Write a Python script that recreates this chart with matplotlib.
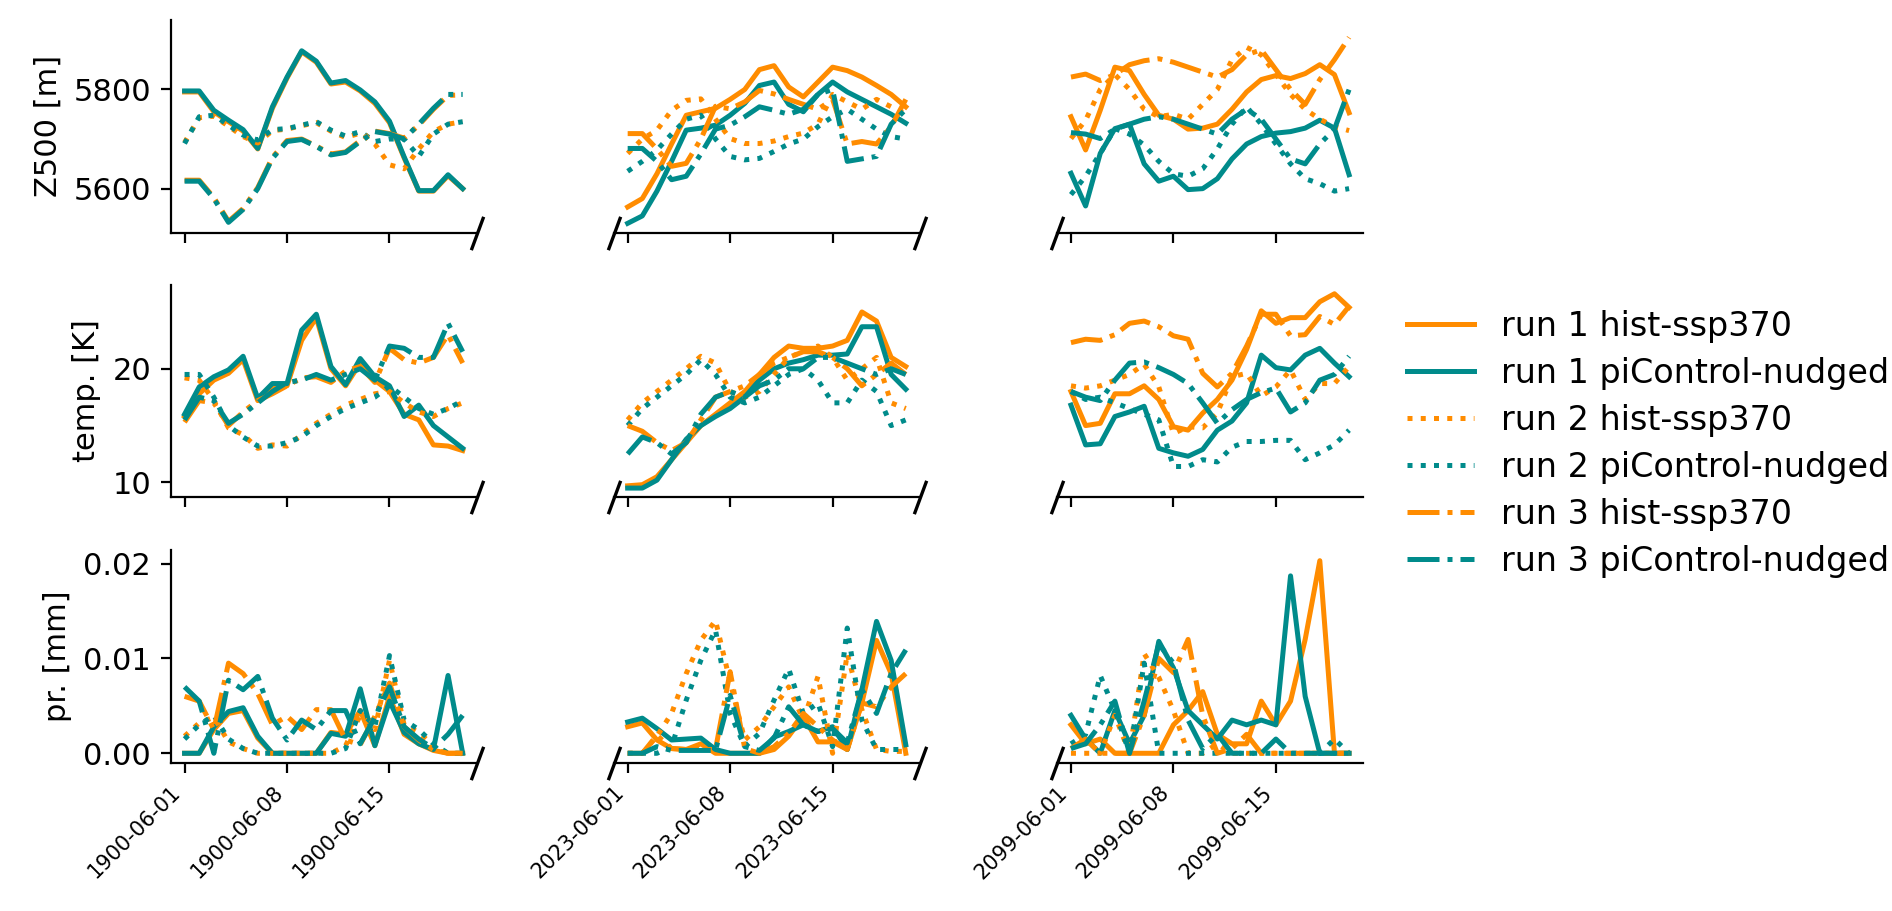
import matplotlib
matplotlib.use("Agg")
import matplotlib.pyplot as plt
import matplotlib.dates as mdates
import matplotlib.ticker as mticker
import pandas as pd

# ---- data: 20 daily values (June 1-20) per run ----
YEARS = ["1900", "2023", "2099"]
VAR_LABELS = ["Z500 [m]", "temp. [K]", "pr. [mm]"]
RUN_LABELS = [
    "run 1 hist-ssp370", "run 1 piControl-nudged",
    "run 2 hist-ssp370", "run 2 piControl-nudged",
    "run 3 hist-ssp370", "run 3 piControl-nudged",
]

# Z500 [m]
z500_1900_hist1 = [5795, 5795, 5755, 5735, 5716, 5680, 5762, 5823, 5876, 5855, 5811, 5815, 5797, 5772, 5733, 5662, 5595, 5595, 5626, 5600]
z500_1900_pic1 = [5797, 5797, 5758, 5738, 5719, 5681, 5765, 5825, 5878, 5857, 5813, 5818, 5799, 5775, 5736, 5664, 5596, 5596, 5628, 5600]
z500_1900_hist2 = [5693, 5743, 5746, 5726, 5705, 5692, 5717, 5720, 5727, 5733, 5716, 5703, 5712, 5690, 5648, 5640, 5680, 5715, 5730, 5735]
z500_1900_pic2 = [5691, 5745, 5748, 5728, 5708, 5698, 5719, 5721, 5728, 5735, 5718, 5706, 5715, 5695, 5700, 5700, 5665, 5710, 5730, 5735]
z500_1900_hist3 = [5617, 5617, 5582, 5534, 5560, 5602, 5663, 5697, 5700, 5686, 5670, 5674, 5697, 5716, 5711, 5702, 5728, 5760, 5788, 5789]
z500_1900_pic3 = [5615, 5615, 5580, 5532, 5558, 5600, 5661, 5695, 5699, 5685, 5668, 5673, 5695, 5715, 5710, 5700, 5730, 5762, 5790, 5790]

z500_2023_hist1 = [5563, 5580, 5630, 5690, 5748, 5755, 5762, 5780, 5800, 5840, 5848, 5805, 5785, 5815, 5845, 5838, 5825, 5808, 5790, 5765]
z500_2023_pic1 = [5530, 5545, 5595, 5655, 5718, 5722, 5728, 5748, 5772, 5808, 5815, 5770, 5755, 5790, 5815, 5795, 5780, 5765, 5750, 5732]
z500_2023_hist2 = [5671, 5700, 5718, 5758, 5778, 5781, 5740, 5701, 5691, 5691, 5696, 5705, 5712, 5730, 5790, 5775, 5760, 5780, 5765, 5750]
z500_2023_pic2 = [5635, 5655, 5678, 5710, 5740, 5748, 5700, 5665, 5658, 5661, 5675, 5690, 5700, 5725, 5745, 5760, 5740, 5720, 5705, 5700]
z500_2023_hist3 = [5711, 5711, 5680, 5645, 5651, 5700, 5766, 5761, 5775, 5798, 5791, 5780, 5770, 5760, 5780, 5690, 5695, 5690, 5725, 5780]
z500_2023_pic3 = [5681, 5681, 5655, 5618, 5625, 5670, 5720, 5728, 5745, 5765, 5758, 5750, 5760, 5790, 5800, 5655, 5660, 5665, 5730, 5760]

z500_2099_hist1 = [5745, 5678, 5758, 5845, 5838, 5790, 5748, 5740, 5720, 5722, 5730, 5760, 5795, 5820, 5828, 5822, 5832, 5850, 5830, 5753]
z500_2099_pic1 = [5631, 5565, 5671, 5721, 5730, 5650, 5615, 5625, 5598, 5600, 5620, 5660, 5690, 5705, 5712, 5715, 5722, 5738, 5722, 5628]
z500_2099_hist2 = [5701, 5738, 5800, 5830, 5800, 5760, 5745, 5750, 5740, 5770, 5800, 5860, 5885, 5870, 5830, 5790, 5760, 5740, 5725, 5717]
z500_2099_pic2 = [5588, 5625, 5671, 5721, 5710, 5688, 5655, 5630, 5625, 5640, 5680, 5730, 5765, 5730, 5690, 5650, 5620, 5610, 5595, 5600]
z500_2099_hist3 = [5825, 5831, 5818, 5830, 5850, 5858, 5862, 5855, 5845, 5835, 5825, 5840, 5870, 5880, 5840, 5800, 5770, 5820, 5860, 5905]
z500_2099_pic3 = [5713, 5710, 5701, 5720, 5730, 5740, 5745, 5740, 5730, 5720, 5710, 5740, 5760, 5740, 5700, 5660, 5650, 5690, 5720, 5800]

# temperature [K]
temp_1900_hist1 = [15.8, 17.8, 19.0, 19.6, 20.8, 17.2, 18.3, 18.5, 22.5, 24.5, 20.0, 18.5, 20.5, 19.0, 18.0, 16.0, 15.5, 13.3, 13.2, 12.8]
temp_1900_pic1 = [16.0, 18.4, 19.3, 19.9, 21.1, 17.4, 18.7, 18.7, 23.4, 24.8, 20.2, 18.6, 20.9, 19.3, 18.5, 15.8, 16.8, 15.0, 14.0, 13.0]
temp_1900_hist2 = [19.2, 19.0, 17.2, 14.8, 14.2, 13.0, 13.3, 13.2, 14.2, 15.2, 16.0, 16.8, 17.3, 17.8, 18.0, 17.0, 16.2, 15.8, 16.5, 17.0]
temp_1900_pic2 = [19.5, 19.5, 17.5, 15.0, 14.0, 13.2, 13.2, 13.5, 14.0, 15.0, 15.8, 16.5, 17.0, 17.5, 18.5, 17.5, 16.5, 16.0, 16.5, 17.2]
temp_1900_hist3 = [15.3, 17.2, 17.0, 15.0, 16.2, 17.2, 17.8, 18.5, 19.2, 19.3, 18.8, 19.8, 20.2, 18.8, 21.8, 20.8, 20.5, 21.0, 23.0, 20.5]
temp_1900_pic3 = [15.5, 17.5, 17.2, 15.2, 16.0, 17.0, 18.0, 18.8, 19.0, 19.5, 19.0, 19.5, 20.0, 19.0, 22.0, 21.8, 21.0, 21.0, 24.0, 21.5]

temp_2023_hist1 = [9.7, 9.8, 10.5, 12.0, 13.5, 15.0, 16.0, 17.0, 18.0, 19.5, 21.0, 22.0, 21.8, 21.8, 22.0, 22.5, 25.0, 24.2, 21.0, 20.2]
temp_2023_pic1 = [9.5, 9.5, 10.2, 12.0, 13.8, 15.0, 15.8, 16.5, 17.5, 19.0, 20.0, 20.5, 20.8, 21.2, 21.2, 21.3, 23.7, 23.7, 19.5, 18.2]
temp_2023_hist2 = [15.5, 17.0, 18.0, 19.0, 20.0, 21.1, 20.5, 18.0, 17.5, 18.0, 19.5, 21.0, 21.5, 22.0, 21.0, 19.0, 20.0, 21.0, 17.0, 16.5]
temp_2023_pic2 = [15.0, 16.5, 17.5, 18.5, 19.5, 20.8, 19.5, 17.5, 17.0, 17.5, 18.5, 19.5, 20.0, 19.0, 17.0, 17.0, 19.0, 18.0, 15.0, 15.5]
temp_2023_hist3 = [15.0, 14.5, 13.5, 12.8, 13.5, 15.5, 17.5, 18.0, 18.5, 19.5, 20.5, 21.0, 21.5, 21.5, 21.0, 20.0, 18.5, 19.5, 20.5, 19.5]
temp_2023_pic3 = [12.5, 14.0, 13.5, 12.5, 13.5, 16.0, 17.5, 18.0, 17.5, 18.5, 19.0, 20.0, 20.0, 21.0, 21.0, 20.5, 20.0, 19.5, 20.0, 19.5]

temp_2099_hist1 = [18.0, 15.0, 15.2, 17.8, 17.8, 18.5, 17.3, 14.9, 14.6, 16.1, 17.3, 19.0, 21.7, 25.1, 24.0, 24.5, 24.5, 25.9, 26.6, 25.4]
temp_2099_pic1 = [16.8, 13.3, 13.4, 15.8, 16.2, 16.7, 13.0, 12.6, 12.3, 12.9, 14.6, 15.4, 17.0, 21.2, 20.1, 19.9, 21.2, 21.8, 20.5, 19.3]
temp_2099_hist2 = [18.5, 18.3, 18.5, 19.0, 19.5, 20.4, 18.4, 14.3, 14.9, 14.8, 16.1, 19.3, 19.6, 17.6, 18.4, 19.9, 17.3, 18.7, 18.7, 20.2]
temp_2099_pic2 = [18.0, 17.3, 17.5, 17.0, 16.5, 16.0, 15.5, 11.4, 11.4, 12.0, 11.8, 13.1, 13.6, 13.6, 13.7, 13.7, 12.0, 12.6, 13.3, 14.6]
temp_2099_hist3 = [22.3, 22.6, 22.5, 23.0, 24.0, 24.2, 23.7, 22.9, 22.6, 19.6, 18.4, 19.6, 22.0, 24.8, 24.8, 22.9, 23.0, 24.6, 23.9, 25.5]
temp_2099_pic3 = [18.0, 17.5, 17.2, 19.0, 20.5, 20.6, 20.1, 19.5, 18.7, 17.0, 15.2, 16.4, 17.3, 17.9, 18.3, 16.2, 17.0, 19.0, 19.5, 21.1]

# precipitation [mm]
pr_1900_hist1 = [0.0, 0.0, 0.0025, 0.0042, 0.0045, 0.0016, 0.0, 0.0, 0.0, 0.0, 0.0022, 0.002, 0.0045, 0.0008, 0.006, 0.002, 0.001, 0.0003, 0.0, 0.0]
pr_1900_pic1 = [0.0, 0.0, 0.0028, 0.0044, 0.0048, 0.0018, 0.0, 0.0, 0.0, 0.0, 0.0021, 0.0018, 0.0068, 0.0008, 0.0055, 0.0022, 0.001, 0.0004, 0.0082, 0.0]
pr_1900_hist2 = [0.0018, 0.0032, 0.0038, 0.0012, 0.0005, 0.0, 0.0, 0.0, 0.0, 0.0, 0.0, 0.0008, 0.004, 0.0025, 0.0098, 0.003, 0.0022, 0.0008, 0.0, 0.0]
pr_1900_pic2 = [0.0015, 0.003, 0.004, 0.0015, 0.0005, 0.0, 0.0, 0.0, 0.0, 0.0, 0.0, 0.0005, 0.0045, 0.0028, 0.0103, 0.0035, 0.0025, 0.001, 0.0, 0.0]
pr_1900_hist3 = [0.006, 0.0055, 0.0025, 0.0095, 0.0084, 0.0063, 0.003, 0.0039, 0.0025, 0.0046, 0.0046, 0.0014, 0.0009, 0.0039, 0.0074, 0.0028, 0.0014, 0.0004, 0.0, 0.0]
pr_1900_pic3 = [0.007, 0.0055, 0.0, 0.0077, 0.0067, 0.0081, 0.0037, 0.0014, 0.0035, 0.0025, 0.0045, 0.0045, 0.001, 0.0038, 0.007, 0.0028, 0.0015, 0.0005, 0.002, 0.004]

pr_2023_hist1 = [0.0028, 0.0032, 0.0014, 0.0005, 0.0004, 0.001, 0.0, 0.0, 0.0, 0.0, 0.0004, 0.0018, 0.0039, 0.0012, 0.0012, 0.0004, 0.0053, 0.0119, 0.0084, 0.0]
pr_2023_pic1 = [0.0033, 0.0037, 0.0026, 0.0014, 0.0015, 0.0016, 0.0004, 0.0, 0.0, 0.0, 0.0017, 0.0023, 0.003, 0.0023, 0.0028, 0.0004, 0.0067, 0.0139, 0.0098, 0.0009]
pr_2023_hist2 = [0.0, 0.0, 0.0018, 0.0042, 0.0084, 0.0119, 0.014, 0.0075, 0.0014, 0.0028, 0.0049, 0.007, 0.0035, 0.0081, 0.0, 0.0105, 0.0046, 0.0004, 0.0002, 0.0002]
pr_2023_pic2 = [0.0, 0.0, 0.0, 0.0007, 0.0056, 0.0098, 0.013, 0.0042, 0.0007, 0.0021, 0.0056, 0.0089, 0.0042, 0.0053, 0.0007, 0.0132, 0.0035, 0.0004, 0.0004, 0.0004]
pr_2023_hist3 = [0.0, 0.0, 0.0019, 0.0005, 0.0004, 0.0004, 0.0004, 0.0086, 0.0005, 0.0, 0.0007, 0.0021, 0.0042, 0.0028, 0.0014, 0.0004, 0.0053, 0.0049, 0.007, 0.0084]
pr_2023_pic3 = [0.0, 0.0, 0.0007, 0.0003, 0.0003, 0.0003, 0.0003, 0.0061, 0.0007, 0.0003, 0.0016, 0.0049, 0.003, 0.0023, 0.0026, 0.0011, 0.0067, 0.0042, 0.0084, 0.0109]

pr_2099_hist1 = [0.003, 0.001, 0.0015, 0.0, 0.0, 0.0, 0.0, 0.003, 0.0045, 0.0065, 0.002, 0.001, 0.001, 0.0055, 0.003, 0.0055, 0.012, 0.0203, 0.0, 0.0]
pr_2099_pic1 = [0.004, 0.0015, 0.0, 0.0045, 0.001, 0.004, 0.0118, 0.009, 0.0045, 0.003, 0.0015, 0.0035, 0.003, 0.0035, 0.003, 0.0187, 0.006, 0.0, 0.0, 0.0]
pr_2099_hist2 = [0.0, 0.0, 0.0, 0.004, 0.0, 0.0105, 0.008, 0.0045, 0.0, 0.0, 0.001, 0.0, 0.0, 0.0, 0.0, 0.0, 0.0, 0.0, 0.0, 0.0]
pr_2099_pic2 = [0.001, 0.002, 0.0082, 0.0045, 0.0, 0.0095, 0.0, 0.0, 0.0, 0.0, 0.0, 0.0, 0.0, 0.0, 0.0, 0.0, 0.0, 0.0, 0.0015, 0.0]
pr_2099_hist3 = [0.0005, 0.0015, 0.0, 0.0, 0.0, 0.004, 0.01, 0.0085, 0.012, 0.004, 0.0, 0.0005, 0.002, 0.0, 0.0, 0.0, 0.0, 0.0, 0.0, 0.0]
pr_2099_pic3 = [0.0005, 0.001, 0.003, 0.0055, 0.0, 0.0055, 0.0115, 0.0095, 0.0035, 0.0005, 0.002, 0.0, 0.0, 0.0, 0.0015, 0.0, 0.0, 0.0, 0.0, 0.0]

Y_TICKS = [[5600, 5800], [10, 20], [0.0, 0.01, 0.02]]
Y_LIMS = [(5511, 5940), (8.68, 27.4), (-0.00102, 0.0214)]

# ---- styling ----
ORANGE = "#ff8c00"
TEAL = "#008b8b"
COLORS = [ORANGE, TEAL] * 3
STYLES = ["-", "-", ":", ":", "-.", "-."]

SERIES = {
    (0, "1900"): [z500_1900_hist1, z500_1900_pic1, z500_1900_hist2, z500_1900_pic2, z500_1900_hist3, z500_1900_pic3],
    (0, "2023"): [z500_2023_hist1, z500_2023_pic1, z500_2023_hist2, z500_2023_pic2, z500_2023_hist3, z500_2023_pic3],
    (0, "2099"): [z500_2099_hist1, z500_2099_pic1, z500_2099_hist2, z500_2099_pic2, z500_2099_hist3, z500_2099_pic3],
    (1, "1900"): [temp_1900_hist1, temp_1900_pic1, temp_1900_hist2, temp_1900_pic2, temp_1900_hist3, temp_1900_pic3],
    (1, "2023"): [temp_2023_hist1, temp_2023_pic1, temp_2023_hist2, temp_2023_pic2, temp_2023_hist3, temp_2023_pic3],
    (1, "2099"): [temp_2099_hist1, temp_2099_pic1, temp_2099_hist2, temp_2099_pic2, temp_2099_hist3, temp_2099_pic3],
    (2, "1900"): [pr_1900_hist1, pr_1900_pic1, pr_1900_hist2, pr_1900_pic2, pr_1900_hist3, pr_1900_pic3],
    (2, "2023"): [pr_2023_hist1, pr_2023_pic1, pr_2023_hist2, pr_2023_pic2, pr_2023_hist3, pr_2023_pic3],
    (2, "2099"): [pr_2099_hist1, pr_2099_pic1, pr_2099_hist2, pr_2099_pic2, pr_2099_hist3, pr_2099_pic3],
}

# axes layout in figure fractions
LEFTS = [0.0902, 0.3244, 0.5587]
BOTTOMS = [0.7445, 0.4540, 0.1625]
WIDTH = 0.1617
HEIGHT = 0.2335

fig = plt.figure(figsize=(1892 / 200, 911 / 200), dpi=200)

break_kw = dict(marker=[(-0.37, -1), (0.37, 1)], markersize=12, linestyle="none",
                color="k", mec="k", mew=1.2, clip_on=False)

handles = None
for i in range(3):
    for j, year in enumerate(YEARS):
        ax = fig.add_axes([LEFTS[j], BOTTOMS[i], WIDTH, HEIGHT])
        dates = pd.date_range(f"{year}-06-01", periods=20, freq="D")
        lines = []
        for k, vals in enumerate(SERIES[(i, year)]):
            ln, = ax.plot(dates, vals, color=COLORS[k], linestyle=STYLES[k],
                          linewidth=1.8, label=RUN_LABELS[k])
            lines.append(ln)
        if handles is None:
            handles = lines

        ax.set_ylim(*Y_LIMS[i])
        ax.set_yticks(Y_TICKS[i])
        ax.spines["top"].set_visible(False)
        ax.spines["right"].set_visible(False)
        ax.tick_params(labelsize=11)

        if j == 0:
            ax.set_ylabel(VAR_LABELS[i], fontsize=11)
            if i == 2:
                ax.yaxis.set_major_formatter(mticker.FormatStrFormatter("%.2f"))
            ax.plot([1], [0], transform=ax.transAxes, **break_kw)
        else:
            ax.spines["left"].set_visible(False)
            ax.tick_params(axis="y", left=False, labelleft=False)
            if j == 1:
                ax.plot([0, 1], [0, 0], transform=ax.transAxes, **break_kw)
            else:
                ax.plot([0], [0], transform=ax.transAxes, **break_kw)

        ax.xaxis.set_major_locator(mdates.DayLocator(bymonthday=[1, 8, 15]))
        ax.xaxis.set_major_formatter(mdates.DateFormatter("%Y-%m-%d"))
        if i < 2:
            ax.tick_params(axis="x", labelbottom=False)
        else:
            plt.setp(ax.get_xticklabels(), rotation=45, ha="right", fontsize=7.5)

fig.legend(handles, RUN_LABELS, loc="center left", bbox_to_anchor=(0.728, 0.513),
           frameon=False, fontsize=12, labelspacing=0.42)

fig.savefig("out.png", dpi=200)
